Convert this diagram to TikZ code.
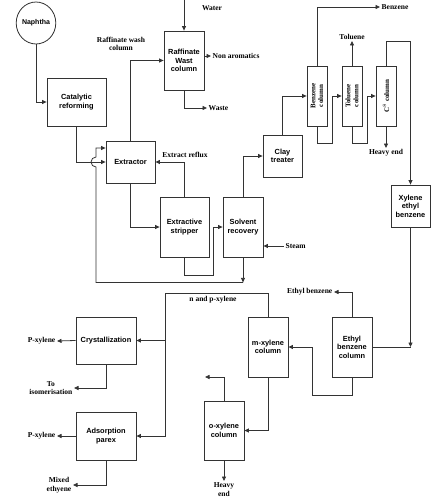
\documentclass[tikz,border=0pt]{standalone}
\usepackage{graphicx}
\usepackage{fontspec}
\setmainfont{Liberation Serif}
\newfontfamily\unitfont{Liberation Sans}
\usetikzlibrary{arrows.meta,shapes.geometric}

\begin{document}
\begin{tikzpicture}[x=1pt,y=-1pt]
		\tikzset{unit/.style = {shape=rectangle,draw=black!80,line width=0.8pt,fill=white,align=center,inner sep=1pt,font=\unitfont\bfseries\fontsize{7.4}{8.6}\selectfont}}
		\tikzset{column/.style = {unit,minimum width=20pt,minimum height=60pt,inner sep=0pt,font=\bfseries\fontsize{7}{7.5}\selectfont}}
		\tikzset{lab/.style = {align=center,inner sep=1.5pt,font=\bfseries\fontsize{7.5}{8.5}\selectfont}}
		\tikzset{pipe/.style = {draw=black!80,line width=0.8pt}}
		\tikzset{flow/.style = {pipe,-{Triangle[length=4.5pt,width=4pt]}}}

		\useasboundingbox (0,0) rectangle (432,500);

		\node[unit,shape=ellipse,minimum width=31pt,minimum height=42pt,inner sep=0pt,font=\unitfont\bfseries\fontsize{7}{8}\selectfont] (naph) at (36,23) {Naphtha};
		\node[unit,minimum width=59pt,minimum height=48pt] (cat) at (76.5,102) {Catalytic\\reforming};
		\node[unit,minimum width=49pt,minimum height=42pt] (ext) at (130.5,162) {Extractor};
		\node[unit,minimum width=40pt,minimum height=59pt] (raf) at (184,60.5) {Raffinate\\Wast\\column};
		\node[unit,minimum width=49pt,minimum height=60pt] (strip) at (184.5,227) {Extractive\\stripper};
		\node[unit,minimum width=40pt,minimum height=60pt] (solv) at (243,227) {Solvent\\recovery};
		\node[unit,minimum width=39pt,minimum height=42pt] (clay) at (282.5,156) {Clay\\treater};
		\node[column] (benz) at (317,96) {\rotatebox{90}{\shortstack{Benzene\\column}}};
		\node[column] (tol) at (352,96) {\rotatebox{90}{\shortstack{Toluene\\column}}};
		\node[column] (cEight) at (386,96) {\rotatebox{90}{C$^{8}$ column}};
		\node[unit,minimum width=39pt,minimum height=42pt] (xyl) at (410.5,206) {Xylene\\ethyl\\benzene};
		\node[unit,minimum width=40pt,minimum height=60pt] (ebc) at (352,347) {Ethyl\\benzene\\column};
		\node[unit,minimum width=40pt,minimum height=60pt] (mxc) at (268,347) {m-xylene\\column};
		\node[unit,minimum width=40pt,minimum height=59pt] (oxc) at (224,430.5) {o-xylene\\column};
		\node[unit,minimum width=60pt,minimum height=47pt] (cryst) at (106,340.5) {Crystallization};
		\node[unit,minimum width=60pt,minimum height=48pt] (ads) at (106,436) {Adsorption\\parex};

		\node[lab] (wash) at (121,44) {Raffinate wash\\column};
		\node[lab] (water) at (212,8) {Water};
		\node[lab,anchor=west] (nonar) at (211,56) {Non aromatics};
		\node[lab,anchor=west] (waste) at (207,108) {Waste};
		\node[lab] (reflux) at (185,155) {Extract reflux};
		\node[lab,anchor=west] (steam) at (284,246) {Steam};
		\node[lab,anchor=west] (benzout) at (380,7) {Benzene};
		\node[lab,anchor=south] (tolout) at (352,41) {Toluene};
		\node[lab,anchor=north] (heavyA) at (386,148) {Heavy end};
		\node[lab,anchor=east] (ebout) at (334,292) {Ethyl benzene};
		\node[lab] (npx) at (213,300) {n and p-xylene};
		\node[lab,anchor=east] (pxA) at (57,341) {P-xylene};
		\node[lab,anchor=east] (iso) at (74,388) {To\\isomerisation};
		\node[lab,anchor=east] (pxB) at (57,436) {P-xylene};
		\node[lab,anchor=east] (mixed) at (73,485) {Mixed\\ethyene};
		\node[lab,anchor=north] (heavyB) at (224,481) {Heavy\\end};

		\coordinate (wtop) at (184,0);
		\coordinate (np) at (165,293);
		\coordinate (oxout) at (205,377);

		\draw[flow] (naph.south) |- (cat.west);
		\draw[flow] (cat.south) |- (ext.west);
		\draw[flow] (solv.south) -- ++(0,25) coordinate (rec);
		\draw[flow] (rec) -| (96,167) arc[start angle=-90,end angle=-270,radius=5pt] |- ([yshift=14pt]ext.west);
		\draw[flow] (ext.north) |- (raf.west);
		\draw[flow] (wtop) -- (raf.north);
		\draw[flow] (raf.east |- nonar.west) -- (nonar.west);
		\draw[flow] (raf.south) |- (waste.west);
		\draw[flow] (strip.north) |- (ext.east);
		\draw[flow] (ext.south) |- (strip.west);
		\draw[flow] (strip.south) -- ++(0,18) -- ++(28.5,0) |- (solv.west);
		\draw[flow] (steam.west) -- (solv.east |- steam.west);
		\draw[flow] (solv.north) |- (clay.west);
		\draw[flow] (clay.north) |- (benz.west);
		\draw[flow] (benz.north) |- (benzout.west);
		\draw[flow] (benz.south) -- ++(0,17) -- ++(15,0) |- (tol.west);
		\draw[flow] (tol.north) -- (tolout.south);
		\draw[flow] (tol.south) -- ++(0,17) -- ++(15,0) |- (cEight.west);
		\draw[flow] (cEight.north) -- ++(0,-24) -| (xyl.north);
		\draw[flow] (cEight.south) -- (heavyA.north);
		\draw[flow] (xyl.south) -- (xyl.south |- ebc.east);
		\draw[pipe] (ebc.east) -- (xyl.south |- ebc.east);
		\draw[flow] (ebc.north) |- (ebout.east);
		\draw[flow] (ebc.south) -- ++(0,18) -- ++(-40,0) |- (mxc.east);
		\draw[flow] (mxc.north) |- (np) |- (ads.east);
		\draw[flow] (np |- cryst.east) -- (cryst.east);
		\draw[flow] (cryst.west) -- (pxA.east);
		\draw[flow] (cryst.south) |- (iso.east);
		\draw[flow] (ads.west) -- (pxB.east);
		\draw[flow] (ads.south) |- (mixed.east);
		\draw[flow] (mxc.south) |- (oxc.east);
		\draw[flow] (oxc.north) |- (oxout);
		\draw[flow] (oxc.south) -- (heavyB.north);

	\end{tikzpicture}
\end{document}
